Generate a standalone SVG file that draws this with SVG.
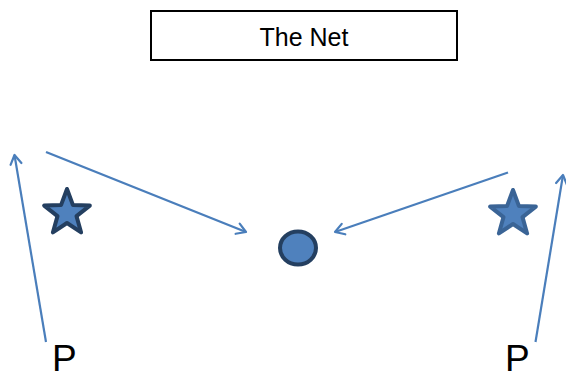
<svg xmlns="http://www.w3.org/2000/svg" width="566" height="379" viewBox="0 0 566 379">
<style>
.conn{stroke:#4A7EBB;stroke-width:2.2;fill:none}
.lbl{font-family:"Liberation Sans",Arial,sans-serif;fill:#000}
.star{fill:#4F81BD;stroke-width:4;stroke-linejoin:round}
</style>
<defs>
<marker id="arr" markerUnits="userSpaceOnUse" markerWidth="20" markerHeight="20" refX="0" refY="0" viewBox="-12 -10 14 20" orient="auto" overflow="visible">
<path d="M-9,-5.5 L0,0 L-9,5.5" fill="none" stroke="#4A7EBB" stroke-width="2.2" stroke-linecap="round" stroke-linejoin="round"/>
</marker>
<path id="starShape" d="M0,-24 L5.88,-8.09 L22.83,-7.42 L9.51,3.09 L14.11,19.42 L0,10 L-14.11,19.42 L-9.51,3.09 L-22.83,-7.42 L-5.88,-8.09 Z"/>
</defs>
<g id="title">
<rect x="151" y="11" width="306" height="49" fill="#fff" stroke="#000" stroke-width="2"/>
<text class="lbl" x="304" y="46" font-size="25" text-anchor="middle">The Net</text>
</g>
<g id="connectors">
<line class="conn" x1="46" y1="342" x2="14.5" y2="155" marker-end="url(#arr)"/>
<line class="conn" x1="46" y1="152" x2="246" y2="232" marker-end="url(#arr)"/>
<line class="conn" x1="508" y1="172.5" x2="335" y2="232" marker-end="url(#arr)"/>
<line class="conn" x1="535.5" y1="342" x2="563" y2="175" marker-end="url(#arr)"/>
</g>
<g id="star-left">
<use href="#starShape" class="star" stroke="#243F60" transform="translate(67,213)"/>
</g>
<g id="star-right">
<use href="#starShape" class="star" stroke="#3A6496" transform="translate(513,214)"/>
</g>
<g id="net-node">
<ellipse cx="298" cy="248" rx="18" ry="16.5" fill="#4F81BD" stroke="#243F60" stroke-width="4"/>
</g>
<g id="p-left">
<text class="lbl" x="52" y="371" font-size="37">P</text>
</g>
<g id="p-right">
<text class="lbl" x="505" y="371" font-size="37">P</text>
</g>
</svg>
